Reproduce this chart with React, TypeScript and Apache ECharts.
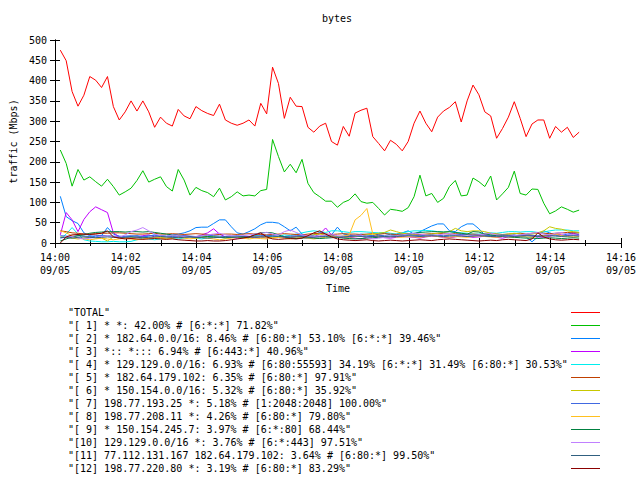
import React, { useEffect, useRef } from 'react';
import * as echarts from 'echarts';

const FONT = 'DejaVu Sans Mono';
const TITLE = 'bytes';
const X_NAME = 'Time';
const Y_NAME = 'traffic (Mbps)';
const DATE_LABEL = '09/05';
const HOUR_LABEL = '14';
// x axis in seconds after 14:00
const X_MIN = 0;
const X_MAX = 960;
const X_STEP = 120;
const Y_MIN = 0;
const Y_MAX = 500;
const Y_STEP = 50;
// samples every 10 s, first one at 14:00:09
const SAMPLE_START = 9;
const SAMPLE_STEP = 10;

const SERIES_NAMES = [
  '"TOTAL"',
  '"[ 1] * *: 42.00% # [6:*:*] 71.82%"',
  '"[ 2] * 182.64.0.0/16: 8.46% # [6:80:*] 53.10% [6:*:*] 39.46%"',
  '"[ 3] *:: *::: 6.94% # [6:443:*] 40.96%"',
  '"[ 4] * 129.129.0.0/16: 6.93% # [6:80:55593] 34.19% [6:*:*] 31.49% [6:80:*] 30.53%"',
  '"[ 5] * 182.64.179.102: 6.35% # [6:80:*] 97.91%"',
  '"[ 6] * 150.154.0.0/16: 5.32% # [6:80:*] 35.92%"',
  '"[ 7] 198.77.193.25 *: 5.18% # [1:2048:2048] 100.00%"',
  '"[ 8] 198.77.208.11 *: 4.26% # [6:80:*] 79.80%"',
  '"[ 9] * 150.154.245.7: 3.97% # [6:*:80] 68.44%"',
  '"[10] 129.129.0.0/16 *: 3.76% # [6:*:443] 97.51%"',
  '"[11] 77.112.131.167 182.64.179.102: 3.64% # [6:80:*] 99.50%"',
  '"[12] 198.77.220.80 *: 3.19% # [6:80:*] 83.29%"',
];

const COLORS = [
  '#ff0000', '#00c000', '#0080ff', '#c000ff', '#00eeee', '#c04000', '#c8c800',
  '#4169e1', '#ffc020', '#008040', '#c080ff', '#306080', '#8b0000',
];

const TOTAL = [
  475, 449, 373, 337, 364, 410, 401, 383, 410, 336,
  303, 323, 350, 325, 350, 323, 285, 310, 295, 288,
  329, 313, 306, 336, 326, 319, 314, 342, 303, 295,
  290, 295, 303, 288, 344, 318, 433, 393, 307, 359,
  337, 336, 285, 273, 288, 295, 250, 241, 287, 263,
  320, 327, 332, 262, 245, 227, 253, 243, 227, 250,
  295, 325, 295, 274, 310, 325, 334, 348, 298, 350,
  389, 365, 323, 313, 258, 282, 310, 348, 307, 262,
  293, 303, 303, 258, 287, 273, 285, 260, 273,
];

const S1 = [
  229, 196, 140, 181, 155, 163, 151, 140, 157, 139,
  118, 126, 135, 154, 178, 150, 157, 163, 139, 128,
  181, 155, 118, 137, 129, 124, 114, 135, 106, 114,
  126, 116, 118, 116, 129, 132, 255, 213, 175, 194,
  173, 206, 147, 124, 114, 103, 103, 88, 100, 106,
  121, 102, 98, 100, 85, 69, 83, 81, 78, 87,
  114, 167, 116, 122, 100, 110, 139, 154, 116, 118,
  160, 151, 139, 165, 106, 121, 137, 177, 122, 118,
  133, 132, 98, 72, 79, 89, 83, 76, 81,
];

const S2 = [
  115, 65, 55, 48, 25, 18, 15, 18, 38, 22,
  17, 15, 16, 18, 15, 17, 20, 18, 16, 20,
  22, 25, 30, 38, 39, 39, 48, 57, 57, 40,
  25, 22, 28, 35, 45, 51, 51, 49, 40, 30,
  39, 22, 18, 20, 26, 22, 20, 39, 22, 20,
  18, 22, 20, 18, 22, 24, 20, 22, 25, 30,
  22, 28, 35, 42, 47, 47, 30, 28, 40, 47,
  47, 35, 20, 18, 15, 17, 18, 20, 17, 15,
  3, 15, 30, 25, 20, 18, 22, 25, 25,
];

const S3 = [
  20, 75, 57, 28, 58, 77, 89, 82, 75, 25,
  15, 14, 12, 15, 18, 20, 15, 13, 12, 14,
  15, 18, 16, 14, 20, 25, 35, 22, 15, 14,
  12, 14, 15, 13, 15, 12, 14, 16, 13, 15,
  16, 14, 12, 15, 22, 37, 20, 15, 13, 14,
  12, 10, 14, 16, 15, 13, 12, 14, 16, 15,
  14, 12, 15, 17, 16, 14, 13, 15, 18, 16,
  14, 15, 17, 16, 14, 12, 15, 18, 16, 20,
  18, 15, 14, 16, 22, 20, 18, 24, 20,
];

const S4 = [
  10, 22, 38, 22, 8, 5, 4, 3, 3, 4,
  3, 3, 4, 8, 12, 10, 8, 10, 12, 11,
  10, 12, 14, 12, 10, 13, 15, 14, 12, 15,
  16, 14, 15, 18, 20, 18, 16, 15, 20, 18,
  22, 25, 28, 30, 28, 26, 30, 30, 28, 26,
  28, 28, 27, 26, 25, 26, 24, 22, 25, 28,
  30, 30, 31, 30, 28, 27, 28, 26, 25, 24,
  22, 22, 24, 25, 24, 26, 28, 28, 27, 28,
  28, 26, 27, 30, 32, 32, 32, 30, 30,
];

const S5 = [
  30, 28, 25, 24, 22, 22, 23, 24, 24, 25,
  25, 24, 23, 22, 22, 23, 24, 22, 22, 23,
  22, 21, 22, 23, 22, 21, 20, 21, 22, 22,
  21, 22, 23, 22, 21, 20, 21, 22, 23, 22,
  21, 20, 22, 23, 24, 22, 21, 22, 23, 22,
  22, 21, 22, 23, 22, 23, 22, 21, 22, 23,
  22, 21, 22, 23, 24, 23, 22, 23, 22, 21,
  22, 21, 22, 23, 22, 21, 22, 23, 24, 22,
  24, 25, 24, 23, 24, 25, 26, 25, 25,
];

const S6 = [
  15, 14, 12, 10, 12, 14, 13, 12, 5, 15,
  14, 12, 13, 15, 14, 12, 13, 14, 12, 13,
  14, 15, 13, 12, 14, 16, 15, 14, 13, 15,
  16, 15, 14, 16, 15, 14, 13, 15, 16, 14,
  15, 16, 18, 20, 22, 20, 18, 16, 15, 14,
  16, 18, 20, 22, 24, 26, 32, 28, 24, 22,
  20, 18, 20, 22, 24, 26, 28, 36, 30, 28,
  30, 30, 28, 24, 22, 20, 22, 24, 22, 20,
  22, 25, 30, 40, 36, 34, 30, 28, 26,
];

const S7 = [
  18, 17, 16, 18, 17, 16, 18, 19, 18, 17,
  16, 17, 18, 17, 16, 18, 19, 18, 17, 16,
  17, 18, 17, 16, 18, 19, 18, 17, 16, 17,
  18, 17, 16, 17, 18, 19, 18, 17, 16, 17,
  18, 19, 18, 17, 16, 18, 17, 16, 17, 18,
  19, 18, 17, 18, 19, 18, 17, 18, 19, 20,
  19, 18, 19, 20, 19, 18, 19, 20, 21, 20,
  19, 20, 19, 18, 19, 20, 19, 18, 19, 20,
  19, 18, 19, 20, 19, 18, 19, 20, 20,
];

const S8 = [
  30, 25, 18, 12, 10, 8, 10, 12, 10, 8,
  10, 12, 10, 8, 10, 12, 14, 12, 10, 12,
  14, 12, 10, 12, 14, 12, 10, 8, 10, 12,
  14, 12, 10, 12, 11, 10, 12, 14, 12, 10,
  12, 14, 12, 10, 12, 14, 16, 15, 17, 20,
  57, 68, 85, 22, 15, 14, 16, 15, 14, 16,
  15, 14, 16, 18, 16, 15, 14, 16, 15, 14,
  16, 18, 16, 15, 14, 16, 15, 14, 16, 15,
  14, 16, 18, 20, 22, 18, 16, 15, 16,
];

const S9 = [
  5, 10, 15, 18, 20, 24, 26, 27, 28, 28,
  28, 27, 28, 28, 27, 28, 26, 24, 22, 20,
  18, 16, 15, 14, 15, 16, 15, 14, 13, 14,
  15, 14, 13, 22, 25, 26, 25, 20, 15, 12,
  11, 12, 13, 12, 11, 12, 13, 14, 12, 11,
  10, 11, 12, 13, 14, 15, 16, 18, 20, 22,
  24, 26, 27, 28, 28, 27, 28, 26, 24, 22,
  28, 27, 22, 20, 18, 16, 15, 14, 13, 12,
  12, 11, 12, 13, 12, 11, 12, 13, 12,
];

const S10 = [
  12, 14, 16, 12, 10, 12, 14, 16, 18, 15,
  14, 20, 28, 32, 38, 30, 22, 18, 16, 20,
  18, 16, 14, 16, 18, 20, 22, 24, 20, 18,
  16, 18, 20, 22, 24, 26, 22, 20, 28, 32,
  26, 20, 18, 16, 18, 20, 22, 18, 16, 15,
  18, 20, 14, 10, 12, 14, 16, 18, 20, 22,
  24, 22, 20, 18, 20, 22, 24, 20, 18, 16,
  18, 20, 22, 24, 20, 18, 16, 18, 20, 22,
  24, 26, 22, 20, 24, 26, 22, 20, 18,
];

const S11 = [
  14, 13, 12, 14, 15, 14, 13, 14, 15, 14,
  13, 14, 15, 14, 13, 14, 15, 16, 15, 14,
  13, 14, 15, 14, 13, 12, 13, 14, 15, 14,
  15, 16, 15, 14, 15, 16, 17, 16, 15, 14,
  15, 16, 15, 14, 15, 16, 15, 14, 15, 16,
  17, 16, 15, 16, 17, 16, 15, 16, 17, 18,
  17, 16, 17, 18, 17, 16, 17, 18, 17, 16,
  17, 18, 17, 16, 17, 18, 17, 16, 17, 18,
  17, 16, 17, 18, 17, 16, 17, 18, 17,
];

const S12 = [
  0, 15, 20, 21, 22, 21, 22, 24, 30, 15,
  12, 10, 11, 10, 9, 10, 11, 10, 9, 10,
  8, 7, 6, 5, 5, 6, 5, 5, 6, 8,
  10, 12, 15, 20, 25, 15, 10, 9, 10, 11,
  10, 12, 18, 25, 30, 22, 15, 10, 8, 7,
  6, 7, 8, 6, 5, 6, 7, 6, 5, 6,
  7, 8, 7, 6, 8, 9, 10, 9, 8, 7,
  6, 5, 6, 7, 6, 8, 9, 8, 7, 6,
  10, 25, 15, 10, 8, 7, 8, 9, 8,
];

const SERIES_VALUES = [TOTAL, S1, S2, S3, S4, S5, S6, S7, S8, S9, S10, S11, S12];

const textBase = { fontFamily: FONT, fontSize: 10, color: '#000' };

function timeLabel(v: number) {
  const m = Math.round(v / 60);
  return `${HOUR_LABEL}:${String(m).padStart(2, '0')}\n${DATE_LABEL}`;
}

function buildOption() {
  const axisLine = { show: true, lineStyle: { color: '#000', width: 1 } };
  const tick = { show: true, inside: true, length: 5, lineStyle: { color: '#000' } };
  const minor = { show: true, splitNumber: 2, length: 3, lineStyle: { color: '#000' } };
  return {
    animation: false,
    backgroundColor: '#fff',
    color: COLORS,
    title: {
      text: TITLE,
      left: 322,
      top: 13,
      padding: 0,
      textStyle: { ...textBase, fontWeight: 'normal' },
    },
    grid: { left: 53, top: 40, width: 568, height: 203, containLabel: false },
    legend: {
      orient: 'vertical',
      left: 68,
      top: 306,
      padding: 0,
      itemGap: 0,
      itemWidth: 29,
      itemHeight: 1,
      icon: 'rect',
      align: 'right',
      selectedMode: false,
      itemStyle: { borderWidth: 0 },
      data: SERIES_NAMES.map((n, i) => ({
        name: n,
        itemStyle: { color: COLORS[i], borderWidth: 0 },
      })),
      formatter: (name: string) => `{a|${name}}`,
      textStyle: {
        ...textBase,
        lineHeight: 13,
        rich: { a: { ...textBase, width: 498, align: 'left', lineHeight: 13 } },
      },
    },
    xAxis: [
      {
        type: 'value',
        min: X_MIN,
        max: X_MAX,
        interval: X_STEP,
        position: 'bottom',
        name: X_NAME,
        nameLocation: 'middle',
        nameGap: 40,
        nameTextStyle: textBase,
        axisLine,
        axisTick: tick,
        minorTick: minor,
        splitLine: { show: false },
        axisLabel: { ...textBase, margin: 8, lineHeight: 13, formatter: timeLabel },
      },
      {
        type: 'value',
        min: X_MIN,
        max: X_MAX,
        interval: X_STEP,
        position: 'top',
        axisLine,
        axisTick: tick,
        minorTick: minor,
        splitLine: { show: false },
        axisLabel: { show: false },
      },
    ],
    yAxis: [
      {
        type: 'value',
        min: Y_MIN,
        max: Y_MAX,
        interval: Y_STEP,
        position: 'left',
        name: Y_NAME,
        nameLocation: 'middle',
        nameGap: 37,
        nameRotate: 90,
        nameTextStyle: textBase,
        axisLine,
        axisTick: tick,
        splitLine: { show: false },
        axisLabel: { ...textBase, margin: 8 },
      },
      {
        type: 'value',
        min: Y_MIN,
        max: Y_MAX,
        interval: Y_STEP,
        position: 'right',
        axisLine,
        axisTick: tick,
        splitLine: { show: false },
        axisLabel: { show: false },
      },
    ],
    series: SERIES_VALUES.map((vals, si) => ({
      type: 'line',
      name: SERIES_NAMES[si],
      xAxisIndex: 0,
      yAxisIndex: 0,
      symbol: 'none',
      color: COLORS[si],
      itemStyle: { color: COLORS[si] },
      lineStyle: { color: COLORS[si], width: 1 },
      emphasis: { disabled: true },
      data: vals.map((v, i) => [SAMPLE_START + SAMPLE_STEP * i, v]),
    })),
  };
}

export default function App() {
  const ref = useRef<HTMLDivElement>(null);
  useEffect(() => {
    if (!ref.current) return;
    const chart = echarts.init(ref.current, null, { renderer: 'svg' });
    chart.setOption(buildOption() as any);
    return () => chart.dispose();
  }, []);
  return (
    <div
      ref={ref}
      style={{ position: 'absolute', left: 0, top: 0, width: 640, height: 480, background: '#fff' }}
    />
  );
}
